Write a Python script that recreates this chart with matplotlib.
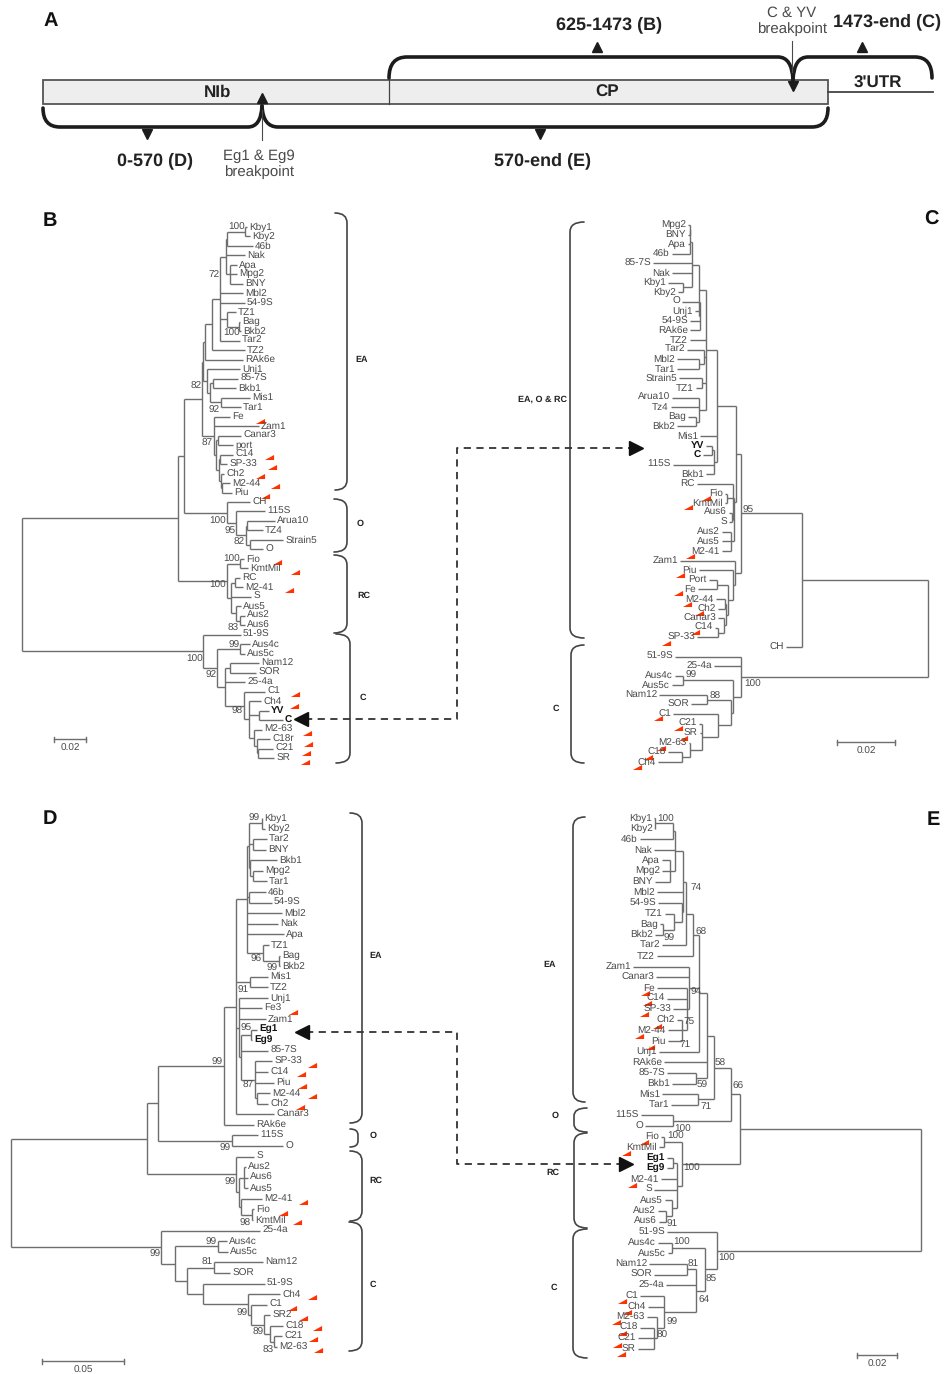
"""Recombination figure: genome map (A) plus four phylogenetic trees (B-E)."""
import matplotlib
matplotlib.use('Agg')
import matplotlib.pyplot as plt
from matplotlib.collections import LineCollection
from matplotlib.patches import PathPatch, Rectangle
from matplotlib.path import Path

plt.rcParams['font.family'] = ['Liberation Sans', 'DejaVu Sans']
plt.rcParams['text.hinting'] = 'none'
plt.rcParams['text.hinting_factor'] = 1

GRAY = '#4a4a4a'
LINE = '#6e6e6e'
RED = '#ff3300'

# Trees: a leaf is (name, depth), a node is (depth, [children]).
# Depth is distance from the root, in 1/32 of the 0.02 bar of panel B (1 unit = 1 px).
tree_b = (0, [
    (156, [
        (162, [
            (180, [
                (181, [
                    (183, [
                        (190, [
                            (198, [
                                (204, [
                                    (205, [(223, [('Kby1', 225), ('Kby2', 228)]), ('46b', 231)]),
                                    ('Nak', 223),
                                    (208, [('Apa', 215), ('Mpg2', 215), ('BNY', 221)]),
                                ]),
                                ('Mbl2', 221), ('54-9S', 223),
                                (205, [('TZ1', 214), (217, [('Bag', 218), ('Bkb2', 219)])]),
                                ('Tar2', 218),
                            ]),
                            ('TZ2', 223),
                        ]),
                        ('RAk6e', 221),
                    ]),
                    (185, [
                        ('Unj1', 218),
                        (188, [
                            (191, [('85-7S', 216), ('Bkb1', 214)]),
                            (199, [('Mis1', 228), ('Tar1', 219)]),
                        ]),
                    ]),
                ]),
                (192, [
                    ('Fe', 208), ('Zam1', 237),
                    (194, [
                        (196, [('Canar3', 219), ('port', 211)]),
                        (197, [
                            (198, [('C14', 211), ('SP-33', 205)]),
                            (199, [('Ch2', 202), (200, [('M2-44', 208), ('Piu', 210)])]),
                        ]),
                    ]),
                ]),
            ]),
            (205, [
                ('CH', 228),
                (214, [
                    ('115S', 243),
                    (224, [
                        (225, [('Arua10', 253), ('TZ4', 241)]),
                        (228, [('Strain5', 261), ('O', 241)]),
                    ]),
                ]),
            ]),
        ]),
        (205, [
            (218, [('Fio', 222), ('KmtMil', 226)]),
            (209, [
                (213, [('RC', 218), ('M2-41', 221)]),
                ('S', 229),
                (214, [('Aus5', 219), (218, [('Aus2', 223), ('Aus6', 223)])]),
            ]),
        ]),
    ]),
    (181, [
        ('51-9S', 219),
        (195, [
            (218, [('Aus4c', 228), ('Aus5c', 223)]),
            (203, [
                (208, [('Nam12', 237), ('SOR', 234)]),
                ('25-4a', 223),
                (222, [
                    ('C1', 243),
                    (227, [
                        ('Ch4', 239),
                        (237, [('YV', 247), ('C', 261)]),
                        (232, [
                            ('M2-63', 240),
                            (235, [('C18r', 248), (236, [('C21', 251), ('SR', 252)])]),
                        ]),
                    ]),
                ]),
            ]),
        ]),
    ]),
])

tree_c = (0, [
    (126, [
        (187, [
            (192, [
                (211, [
                    (222, [
                        (229, [
                            (236, [
                                (238, [
                                    (238.5, [('Mpg2', 240), ('BNY', 240)]),
                                    ('Apa', 240), ('46b', 256),
                                ]),
                                ('85-7S', 275), ('Nak', 256),
                                (245, [('Kby1', 260), ('Kby2', 250)]),
                            ]),
                            (228, [('O', 246), ('Unj1', 233), ('54-9S', 238), ('RAk6e', 238)]),
                        ]),
                        ('TZ2', 238),
                        (224, [('Tar2', 241), (229, [('Mbl2', 251), ('Tar1', 251)])]),
                        (226, [('Strain5', 249), ('TZ1', 232)]),
                        (229, [('Arua10', 256), ('Tz4', 257), (232, [('Bag', 240), ('Bkb2', 251)])]),
                    ]),
                    ('Mis1', 228),
                    (214, [
                        (216, [('YV', 222), ('C', 225)]),
                        ('115S', 255), ('Bkb1', 222),
                    ]),
                ]),
                (195, [
                    ('RC', 231),
                    (194, [
                        (201, [('Fio', 203), ('KmtMil', 203)]),
                        (196, [('Aus6', 199), ('S', 199)]),
                        (197, [('Aus2', 206), ('Aus5', 206), ('M2-41', 206)]),
                    ]),
                ]),
            ]),
            (193, [
                ('Zam1', 248),
                (195, [
                    ('Piu', 229),
                    (200, [
                        (211, [('Port', 219), ('Fe', 230)]),
                        (202, [
                            (203, [('M2-44', 212), ('Ch2', 210)]),
                            (204, [('Canar3', 210), (210, [('C14', 213), ('SP-33', 231)])]),
                        ]),
                    ]),
                ]),
            ]),
        ]),
        ('CH', 142),
    ]),
    (187, [
        ('51-9S', 253), ('25-4a', 214),
        (195, [
            (245, [('Aus4c', 253), ('Aus5c', 256)]),
            (197, [
                (221, [('Nam12', 269), ('SOR', 237)]),
                (210, [
                    ('C1', 255),
                    (226, [
                        ('C21', 229), ('SR', 228),
                        (238, [('M2-63', 239), (246, [('C18', 260), ('Ch4', 270)])]),
                    ]),
                ]),
            ]),
        ]),
    ]),
])

tree_d = (0, [
    (136, [
        (147, [
            (213, [
                (225, [
                    (236, [
                        (238, [
                            (251, [('Kby1', 251), ('Kby2', 254)]),
                            (242, [('Tar2', 256), ('BNY', 255)]),
                            (239, [('Bkb1', 266), (242, [('Mpg2', 252), ('Tar1', 256)])]),
                        ]),
                        (238, [('46b', 255), ('54-9S', 261)]),
                        ('Mbl2', 271), ('Nak', 267), ('Apa', 273),
                        (252, [('TZ1', 258), (268, [('Bag', 269), ('Bkb2', 269)])]),
                    ]),
                    (239, [('Mis1', 257), ('TZ2', 257)]),
                    (228, [
                        ('Unj1', 257), ('Fe3', 251), ('Zam1', 255),
                        (230, [
                            (240, [('Eg1', 246), ('Eg9', 241)]),
                            ('85-7S', 257),
                            (244, [
                                ('SP-33', 261), ('C14', 257), ('Piu', 263),
                                (246, [('M2-44', 259), ('Ch2', 257)]),
                            ]),
                        ]),
                    ]),
                    ('Canar3', 263),
                ]),
                ('RAk6e', 243),
            ]),
            (221, [('115S', 247), ('O', 272)]),
        ]),
        (225, [
            ('S', 243),
            (228, [
                (233, [('Aus2', 235), ('Aus6', 237), ('Aus5', 237)]),
                (230, [('M2-41', 251), (241, [('Fio', 243), ('KmtMil', 242)])]),
            ]),
        ]),
    ]),
    (150, [
        ('25-4a', 249),
        (164, [
            (207, [('Aus4c', 216), ('Aus5c', 217)]),
            (176, [
                (203, [('Nam12', 252), ('SOR', 219)]),
                (192, [
                    ('51-9S', 254),
                    (237, [
                        ('Ch4', 269),
                        (240, [
                            ('C1', 256),
                            (253, [
                                ('SR2', 259),
                                (259, [('C18', 272), (263, [('C21', 271), ('M2-63', 266)])]),
                            ]),
                        ]),
                    ]),
                ]),
            ]),
        ]),
    ]),
])

tree_e = (0, [
    (181, [
        (190, [
            (207, [
                (214, [
                    (222, [
                        (228, [
                            (235, [
                                (238, [
                                    (246, [
                                        (248, [(266, [('Kby1', 267), ('Kby2', 266)]), ('46b', 281)]),
                                        ('Nak', 267),
                                        (251, [('Apa', 259), ('Mpg2', 259), ('BNY', 266)]),
                                    ]),
                                    ('Mbl2', 264),
                                    (239, [
                                        ('54-9S', 263),
                                        (247, [('TZ1', 256), (258, [('Bag', 261), ('Bkb2', 266)])]),
                                    ]),
                                ]),
                                ('Tar2', 259),
                            ]),
                            ('TZ2', 264),
                        ]),
                        (232, [
                            ('Zam1', 288), ('Canar3', 265),
                            (234, [
                                ('Fe', 264), ('C14', 254), ('SP-33', 248),
                                (239, [('Ch2', 244), ('M2-44', 253), ('Piu', 253)]),
                            ]),
                        ]),
                        ('Unj1', 262),
                    ]),
                    ('RAk6e', 257),
                    (225, [('85-7S', 254), ('Bkb1', 249)]),
                ]),
                (223, [('Mis1', 259), ('Tar1', 250)]),
            ]),
            (248, [('115S', 280), ('O', 276)]),
        ]),
        (239, [
            (257, [('Fio', 260), ('KmtMil', 262)]),
            (244, [
                (248, [('Eg1', 254), ('Eg9', 254)]),
                ('M2-41', 260), ('S', 267),
                (249, [('Aus5', 256), (255, [('Aus2', 263), ('Aus6', 262)])]),
            ]),
        ]),
    ]),
    (204, [
        ('51-9S', 254),
        (216, [
            (249, [('Aus4c', 263), ('Aus5c', 253)]),
            (225, [
                (234, [('Nam12', 272), ('SOR', 267)]),
                ('25-4a', 255),
                (257, [
                    ('C1', 281), ('Ch4', 273),
                    (264, [
                        ('M2-63', 274),
                        (267, [('C18', 281), ('C21', 283), ('SR', 283)]),
                    ]),
                ]),
            ]),
        ]),
    ]),
])

# Bootstrap support: (value, depth, position in leaf rows)
boot_b = [('100', 223, 0), ('72', 198, 5.0), ('100', 218, 11.2), ('82', 180, 16.8),
          ('92', 198, 19.3), ('87', 191, 22.8), ('100', 204, 31.0), ('95', 214, 32.1),
          ('82', 223, 33.3), ('100', 218, 35.0), ('100', 204, 37.8), ('83', 217, 42.3),
          ('100', 181, 45.6), ('92', 195, 47.3), ('99', 218, 44.1), ('98', 221, 51.05)]
boot_c = [('95', 185, 29.8), ('100', 184, 47.9), ('99', 242, 47.0), ('88', 218, 49.1)]
boot_d = [('99', 249, 0), ('96', 251, 13.4), ('99', 267, 14.2), ('91', 238, 16.3),
          ('95', 241, 19.9), ('87', 243, 25.3), ('99', 212, 23.1), ('99', 220, 31.2),
          ('99', 225, 34.4), ('98', 240, 38.3), ('99', 206, 40.1), ('81', 202, 42.0),
          ('99', 150, 41.2), ('99', 237, 46.8), ('89', 253, 48.6), ('83', 263, 50.3)]
boot_e = [('100', 264, 0.1), ('74', 231, 6.5), ('99', 257, 11.3), ('68', 226, 10.8),
          ('94', 230, 16.4), ('75', 238, 19.1), ('71', 242, 21.3), ('58', 206, 23.1),
          ('59', 224, 25.2), ('66', 189, 25.3), ('71', 221, 27.2), ('100', 247, 29.3),
          ('100', 254, 30.0), ('100', 238, 33.0), ('91', 254, 38.3), ('100', 248, 40.0),
          ('100', 203, 41.5), ('81', 233, 42.0), ('85', 215, 43.4), ('64', 223, 45.4),
          ('99', 254, 47.5), ('80', 264, 48.7)]

# Red recombinant flags
red_b_depth = [238, 247, 250, 238, 253, 243, 255, 273, 267, 273, 272, 285, 286, 284, 283]
red_b_pos = [20.5, 24.3, 25.3, 26.3, 27.3, 28.4, 35.3, 36.4, 38.3, 49.3, 50.5, 53.4, 54.5, 55.5, 56.4]
red_c_depth = [222, 240, 238, 248, 250, 241, 229, 233, 262, 270, 250, 245, 267, 280, 291]
red_c_pos = [28.5, 29.4, 34.5, 36.5, 38.4, 39.5, 40.5, 42.4, 43.6, 51.4, 52.5, 53.5, 54.5, 55.5, 56.5]
red_d_depth = [282, 301, 290, 291, 301, 289, 292, 272, 286, 301, 281, 292, 306, 302, 307]
red_d_pos = [18.3, 23.3, 24.2, 25.3, 26.3, 27.3, 36.3, 37.3, 38.2, 45.3, 46.3, 47.3, 48.2, 49.2, 50.3]
red_e_depth = [276, 274, 277, 264, 282, 271, 277, 295, 289, 299, 294, 305, 299, 304, 300]
red_e_pos = [16.5, 17.4, 18.5, 19.6, 20.5, 21.6, 30.5, 31.5, 34.6, 45.5, 46.5, 47.5, 48.5, 49.6, 50.5]

bold_names = ['YV', 'C', 'Eg1', 'Eg9']


def draw_tree(tree, root_px, mirror, y_top, y_bottom, boots, red_depth, red_pos, bold=()):
    ax = fig.add_axes([0, 0, 1, 1], facecolor='none')
    ax.axis('off')
    segs = []
    leaves = []

    def walk(node):
        if isinstance(node[0], str):
            leaves.append(node)
            return len(leaves) - 1
        ys = [walk(child) for child in node[1]]
        for child, y in zip(node[1], ys):
            segs.append([(node[0], y), (child[1] if isinstance(child[0], str) else child[0], y)])
        segs.append([(node[0], min(ys)), (node[0], max(ys))])
        return (min(ys) + max(ys)) / 2

    walk(tree)
    step = (y_bottom - y_top) / (len(leaves) - 1)
    if mirror:
        ax.set_xlim(root_px, root_px - W)
    else:
        ax.set_xlim(-root_px, W - root_px)
    ax.set_ylim((H - y_top) / step, -y_top / step)

    ax.add_collection(LineCollection(segs, colors=LINE, linewidths=1.0))
    ha = 'right' if mirror else 'left'
    gap = -1.5 if mirror else 1.5
    for i, (name, depth) in enumerate(leaves):
        ax.annotate(name, (depth, i), xytext=(gap, 0), textcoords='offset points',
                    ha=ha, va='center', fontsize=7, color='#111111' if name in bold else GRAY,
                    fontweight='bold' if name in bold else 'normal')
    boot_ha = 'left' if mirror else 'right'
    for value, depth, pos in boots:
        ax.text(depth, pos, value, ha=boot_ha, va='center', fontsize=7, color=GRAY)
    flag = [(-1, -0.55), (1, -0.55), (1, 0.55), (-1, -0.55)]
    ax.plot(red_depth, red_pos, ls='none', marker=flag, ms=6.6, mfc=RED, mew=0)
    return ax


def curve(ax, points, lw=1.2, color='#444444'):
    # points: start, then (ctrl, end) pairs for a curve or a single point for a line
    verts = [points[0]]
    codes = [Path.MOVETO]
    for p in points[1:]:
        if len(p) == 2 and isinstance(p[0], tuple):
            verts += [p[0], p[1]]
            codes += [Path.CURVE3, Path.CURVE3]
        else:
            verts.append(p)
            codes.append(Path.LINETO)
    ax.add_patch(PathPatch(Path(verts, codes), fc='none', ec=color, lw=lw, capstyle='round'))


def bracket(ax, x_open, x_spine, y0, y1, r=10):
    sign = 1 if y1 > y0 else -1
    curve(ax, [(x_open, y0), ((x_spine, y0), (x_spine, y0 + sign * r)),
               (x_spine, y1 - sign * r), ((x_spine, y1), (x_open, y1))])


def scale_bar(ax, x0, y, length, label):
    ax.plot([x0, x0 + length], [y, y], color=LINE, lw=1.0)
    ax.plot([x0, x0], [y - 2.5, y + 2.5], color=LINE, lw=1.0)
    ax.plot([x0 + length, x0 + length], [y - 2.5, y + 2.5], color=LINE, lw=1.0)
    ax.text(x0 + length / 2, y + 9.5, label, ha='center', va='center', fontsize=7, color=GRAY)


W, H = 947, 1374
fig = plt.figure(figsize=(W / 100, H / 100), dpi=100)
base = fig.add_axes([0, 0, 1, 1])
base.set_xlim(0, W)
base.set_ylim(H, 0)
base.axis('off')

# panel letters
for letter, lx, ly in [('A', 51, 21), ('B', 50, 221), ('C', 931, 220), ('D', 50, 819), ('E', 933, 820)]:
    base.text(lx, ly, letter, fontsize=14.5, fontweight='bold', ha='center', va='center', color='#111111')

# panel A: genome map
base.add_patch(Rectangle((43, 80), 785, 24, fc='#eeeeee', ec='#555555', lw=1.3))
base.plot([389, 389], [80, 104], color='#444444', lw=0.9)
base.plot([828, 933], [92, 92], color='#444444', lw=1.3)
base.text(218, 92, 'NIb', fontsize=12.5, fontweight='bold', ha='center', va='center', color='#222222')
base.text(607, 92, 'CP', fontsize=12.5, fontweight='bold', ha='center', va='center', color='#222222')
base.text(878, 83, "3'UTR", fontsize=12.5, fontweight='bold', ha='center', va='center', color='#222222')
for txt, tx, ty in [('625-1473 (B)', 609, 25), ('1473-end (C)', 887, 22), ('0-570 (D)', 155, 161), ('570-end (E)', 543, 161)]:
    base.text(tx, ty, txt, fontsize=13, fontweight='bold', ha='center', va='center', color='#222222')
base.text(792, 21, 'C & YV\nbreakpoint', fontsize=10.8, ha='center', va='center', color=GRAY, linespacing=1.1)
base.text(259, 164, 'Eg1 & Eg9\nbreakpoint', fontsize=10.8, ha='center', va='center', color=GRAY, linespacing=1.1)
thick = {'lw': 2.6, 'color': '#1c1c1c'}
curve(base, [(389, 78), ((389, 57), (407, 57)), (778, 57), ((792, 57), (793, 80))], **thick)
curve(base, [(793, 80), ((794, 57), (808, 57)), (915, 57), ((932, 57), (932, 78))], **thick)
curve(base, [(43, 108), ((43, 127), (60, 127)), (248, 127), ((261, 127), (262, 106))], **thick)
curve(base, [(262, 106), ((263, 127), (278, 127)), (812, 127), ((828, 127), (828, 108))], **thick)
base.plot([792, 792], [41, 72], color=GRAY, lw=0.8)
base.plot([262, 262], [110, 140], color=GRAY, lw=0.8)
base.plot([597, 862], [47, 47], ls='none', marker='^', ms=6.5, color='#1c1c1c')
base.plot([147, 540], [134, 134], ls='none', marker='v', ms=6.5, color='#1c1c1c')
base.plot([793], [86], ls='none', marker='v', ms=7, color='#1c1c1c')
base.plot([262], [98], ls='none', marker='^', ms=7, color='#1c1c1c')

# group brackets
for x_open, x_spine, y0, y1 in [(335, 347, 213, 490), (334, 347, 499, 552), (334, 347, 555, 633), (336, 350, 634, 763),
                                (584, 570, 222, 638), (584, 571, 645, 763),
                                (350, 362, 813, 1123), (350, 358, 1129, 1147), (350, 362, 1151, 1221), (349, 362, 1222, 1351),
                                (585, 573, 817, 1102), (587, 574, 1108, 1132), (587, 574, 1133, 1228), (587, 573, 1229, 1358)]:
    bracket(base, x_open, x_spine, y0, y1, r=min(10, (y1 - y0) / 3))
for txt, tx, ty in [('EA', 362, 360), ('O', 360, 524), ('RC', 364, 596), ('C', 363, 698),
                    ('EA, O & RC', 543, 399), ('C', 556, 709),
                    ('EA', 376, 956), ('O', 373, 1136), ('RC', 376, 1181), ('C', 373, 1285),
                    ('EA', 550, 965), ('O', 555, 1116), ('RC', 553, 1173), ('C', 554, 1288)]:
    base.text(tx, ty, txt, fontsize=6.5, fontweight='bold', ha='center', va='center', color='#222222')

# dashed links between trees
dash = {'color': '#333333', 'lw': 1.3, 'ls': (0, (4, 3))}
base.plot([305, 457, 457, 630], [719, 719, 448, 448], **dash)
base.plot([306, 457, 457, 620], [1032, 1032, 1164, 1164], **dash)
base.plot([301, 302], [719, 1032], ls='none', marker='<', ms=10, color='#111111')
base.plot([636, 626], [448, 1164], ls='none', marker='>', ms=10, color='#111111')

scale_bar(base, 54, 739, 32, '0.02')
scale_bar(base, 837, 742, 58, '0.02')
scale_bar(base, 42, 1361, 82, '0.05')
scale_bar(base, 857, 1355, 40, '0.02')

draw_tree(tree_b, 22, False, 227, 758, boot_b, red_b_depth, red_b_pos, bold_names)
draw_tree(tree_c, 928, True, 225, 762, boot_c, red_c_depth, red_c_pos, bold_names)
draw_tree(tree_d, 11, False, 818, 1347, boot_d, red_d_depth, red_d_pos, bold_names)
draw_tree(tree_e, 921, True, 818, 1349, boot_e, red_e_depth, red_e_pos, bold_names)

fig.savefig('out.png', dpi=100)
